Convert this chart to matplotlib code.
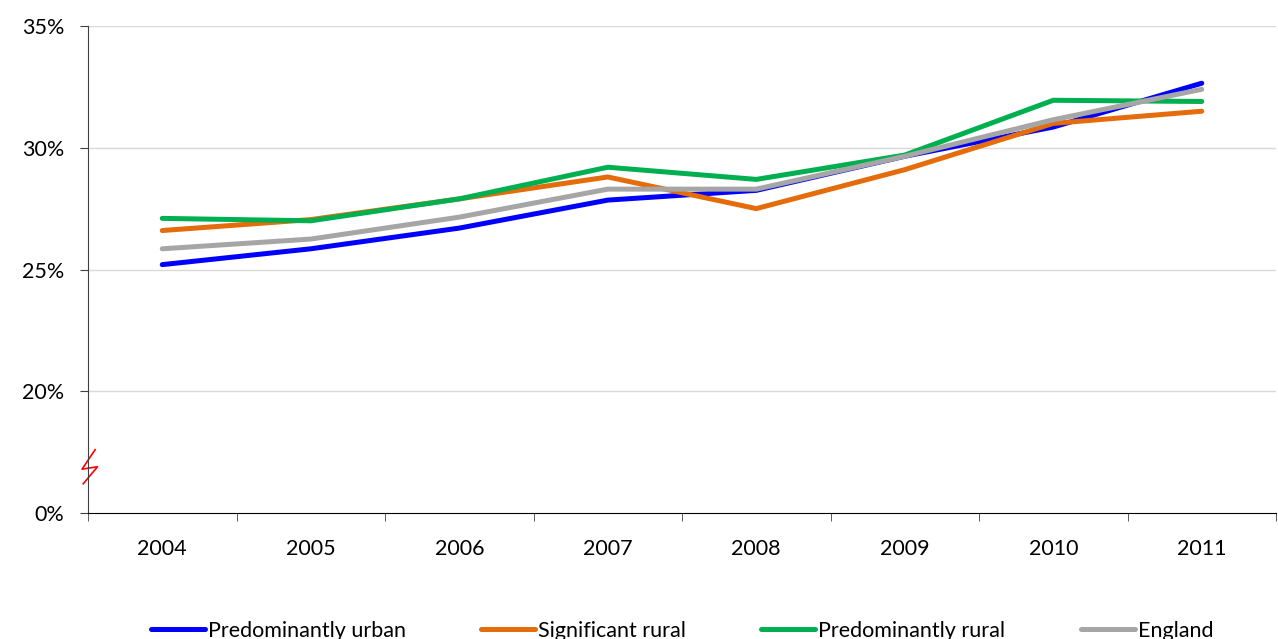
import matplotlib.pyplot as plt
import numpy as np

plt.rcParams['font.family'] = ['Lato', 'DejaVu Sans']

years = ['2004', '2005', '2006', '2007', '2008', '2009', '2010', '2011']
urban = [25.2, 25.85, 26.7, 27.85, 28.25, 29.65, 30.85, 32.65]
sig_rural = [26.6, 27.05, 27.9, 28.8, 27.5, 29.1, 31.0, 31.5]
pred_rural = [27.1, 27.0, 27.9, 29.2, 28.7, 29.7, 31.95, 31.9]
england = [25.85, 26.25, 27.15, 28.3, 28.3, 29.65, 31.15, 32.4]

series = [
    ('Predominantly urban', urban, '#0000FF'),
    ('Significant rural', sig_rural, '#E46C0A'),
    ('Predominantly rural', pred_rural, '#00B050'),
    ('England', england, '#A6A6A6'),
]

y_ticks = [15, 20, 25, 30, 35]
y_labels = ['0%', '20%', '25%', '30%', '35%']

fig = plt.figure(figsize=(12.78, 6.39), dpi=100)
ax = fig.add_axes([88 / 1278, 1 - 513 / 639, 1188 / 1278, 487 / 639])

x = np.arange(len(years))
for name, vals, col in series:
    ax.plot(x, vals, color=col, lw=3.6, label=name, solid_capstyle='round')

ax.set_xlim(-0.5, len(years) - 0.5)
ax.set_ylim(15, 35)
ax.set_yticks(y_ticks)
ax.set_yticklabels(y_labels, fontsize=15.5)
ax.set_xticks(x)
ax.set_xticklabels(years, fontsize=15.5)
ax.set_xticks(np.arange(-0.5, len(years)), minor=True)
ax.tick_params(axis='x', which='major', length=0, pad=19)
ax.tick_params(axis='x', which='minor', length=6, color='#404040', direction='out')
ax.tick_params(axis='y', length=6, color='#404040', direction='out', pad=11)

for v in y_ticks[1:]:
    ax.axhline(v, color='#D9D9D9', lw=1, zorder=0)

for s in ['top', 'right']:
    ax.spines[s].set_visible(False)
ax.spines['left'].set_color('#404040')
ax.spines['bottom'].set_color('black')

# axis break mark
brk_x = [0.006, -0.005, 0.008, -0.004]
brk_y = [0.13, 0.09, 0.095, 0.06]
ax.plot(brk_x, brk_y, color='red', lw=1.2, transform=ax.transAxes, clip_on=False)

ax.legend(loc='lower center', bbox_to_anchor=(0.5, -0.262), ncol=4, frameon=False,
          fontsize=15.5, handlelength=2.5, handletextpad=0.15, columnspacing=3.5,
          borderaxespad=0, borderpad=0)

fig.savefig('out.png', dpi=100)
